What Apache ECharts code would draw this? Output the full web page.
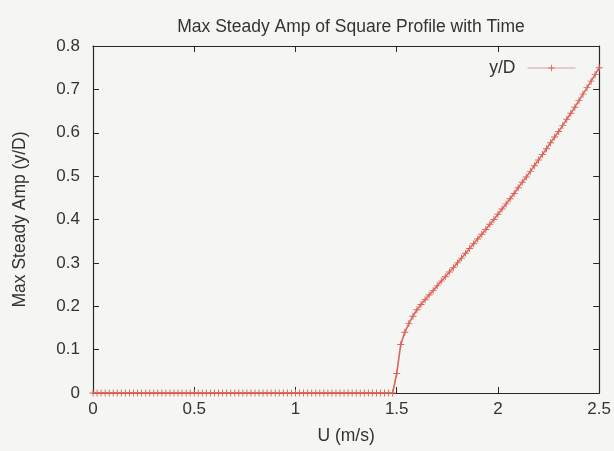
<!DOCTYPE html>
<html>
<head>
<meta charset="utf-8">
<script src="https://cdn.jsdelivr.net/npm/echarts@6/dist/echarts.min.js"></script>
<style>
  html, body { margin: 0; padding: 0; background: #f5f5f3; }
  #chart { width: 614px; height: 451px; }
</style>
</head>
<body>
<div id="chart"></div>
<script>
// Flow speed U (m/s), sampled every 0.02
const uValues = [
  0.00,0.02,0.04,0.06,0.08,0.10,0.12,0.14,0.16,0.18,0.20,0.22,0.24,0.26,0.28,0.30,0.32,0.34,0.36,0.38,
  0.40,0.42,0.44,0.46,0.48,0.50,0.52,0.54,0.56,0.58,0.60,0.62,0.64,0.66,0.68,0.70,0.72,0.74,0.76,0.78,
  0.80,0.82,0.84,0.86,0.88,0.90,0.92,0.94,0.96,0.98,1.00,1.02,1.04,1.06,1.08,1.10,1.12,1.14,1.16,1.18,
  1.20,1.22,1.24,1.26,1.28,1.30,1.32,1.34,1.36,1.38,1.40,1.42,1.44,1.46,1.48,1.50,1.52,1.54,1.56,1.58,
  1.60,1.62,1.64,1.66,1.68,1.70,1.72,1.74,1.76,1.78,1.80,1.82,1.84,1.86,1.88,1.90,1.92,1.94,1.96,1.98,
  2.00,2.02,2.04,2.06,2.08,2.10,2.12,2.14,2.16,2.18,2.20,2.22,2.24,2.26,2.28,2.30,2.32,2.34,2.36,2.38,
  2.40,2.42,2.44,2.46,2.48,2.50
];

// Maximum steady amplitude y/D at each speed
const ampValues = [
  0,0,0,0,0,0,0,0,0,0,0,0,0,0,0,0,0,0,0,0,
  0,0,0,0,0,0,0,0,0,0,0,0,0,0,0,0,0,0,0,0,
  0,0,0,0,0,0,0,0,0,0,0,0,0,0,0,0,0,0,0,0,
  0,0,0,0,0,0,0,0,0,0,0,0,0,0,0,0.045,0.112,0.140,0.160,0.177,
  0.192,0.204,0.215,0.226,0.236,0.247,0.258,0.268,0.279,0.289,0.300,0.311,0.322,0.333,0.344,0.355,0.366,0.377,0.389,0.400,
  0.412,0.424,0.436,0.448,0.460,0.473,0.486,0.498,0.511,0.524,0.537,0.550,0.563,0.577,0.590,0.603,0.617,0.631,0.645,0.659,
  0.674,0.689,0.704,0.719,0.734,0.750
];

const xTicks = [0, 0.5, 1, 1.5, 2, 2.5];
const yTicks = [0, 0.1, 0.2, 0.3, 0.4, 0.5, 0.6, 0.7, 0.8];

const seriesName = 'y/D';
const lineColor = '#dc6459';
const frameColor = '#2a2626';
const textColor = '#333333';
const fontName = 'Liberation Sans';
const plusSymbol = 'path://M0,2.6H6V3.4H0Z M2.6,0H3.4V6H2.6Z';

const points = uValues.map((u, i) => [u, ampValues[i]]);

const chart = echarts.init(document.getElementById('chart'));

const tickFont = { fontFamily: fontName, fontSize: 17, color: textColor };
const nameFont = { fontFamily: fontName, fontSize: 17.5, color: textColor };

function xAxisDef(position, showLabels) {
  return {
    type: 'value', position: position,
    min: xTicks[0], max: xTicks[xTicks.length - 1], interval: 0.5,
    axisLine: { show: true, onZero: false, lineStyle: { color: frameColor, width: 1.2 } },
    axisTick: { show: true, inside: true, length: 6, lineStyle: { color: frameColor } },
    axisLabel: Object.assign({ show: showLabels, margin: 8 }, tickFont),
    splitLine: { show: false },
    name: showLabels ? 'U (m/s)' : '',
    nameLocation: 'middle', nameGap: 34,
    nameTextStyle: nameFont
  };
}

function yAxisDef(position, showLabels) {
  return {
    type: 'value', position: position,
    min: yTicks[0], max: yTicks[yTicks.length - 1], interval: 0.1,
    axisLine: { show: true, onZero: false, lineStyle: { color: frameColor, width: 1.2 } },
    axisTick: { show: true, inside: true, length: 6, lineStyle: { color: frameColor } },
    axisLabel: Object.assign({ show: showLabels, margin: 13 }, tickFont),
    splitLine: { show: false },
    name: showLabels ? 'Max Steady Amp (y/D)' : '',
    nameLocation: 'middle', nameGap: 64,
    nameTextStyle: nameFont
  };
}

chart.setOption({
  backgroundColor: '#f5f5f3',
  animation: false,
  title: {
    text: 'Max Steady Amp of Square Profile with Time',
    left: 346, top: 13, textAlign: 'center',
    textStyle: { fontFamily: fontName, fontSize: 17.5, fontWeight: 'normal', color: textColor }
  },
  legend: {
    data: [seriesName],
    right: 33, top: 54,
    align: 'right',
    itemWidth: 48, itemHeight: 8, itemGap: 10,
    textStyle: { fontFamily: fontName, fontSize: 17.5, color: textColor, padding: [0, 7, 0, 0] },
    itemStyle: { color: lineColor },
    lineStyle: { width: 1, color: '#d8a29c' }
  },
  grid: { left: 93, right: 14, top: 46, bottom: 58 },
  xAxis: [xAxisDef('bottom', true), xAxisDef('top', false)],
  yAxis: [yAxisDef('left', true), yAxisDef('right', false)],
  series: [{
    name: seriesName,
    type: 'line',
    data: points,
    xAxisIndex: 0, yAxisIndex: 0,
    symbol: plusSymbol,
    symbolSize: 7,
    showAllSymbol: true,
    itemStyle: { color: lineColor },
    lineStyle: { color: lineColor, width: 1.6 }
  }]
});
</script>
</body>
</html>
